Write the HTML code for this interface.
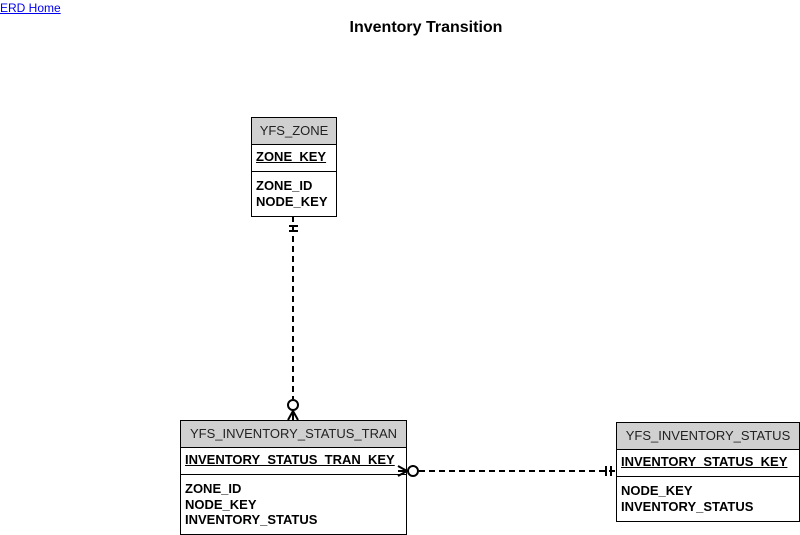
<!DOCTYPE html>
<html><head><style>
body{margin:0;width:800px;height:535px;position:relative;background:#fff;font-family:"Liberation Sans",sans-serif;overflow:hidden}
a{position:absolute;left:0;top:1px;font-size:12px;color:#00e;text-decoration:underline}
.t{position:absolute;left:0;width:852px;top:19px;text-align:center;font-weight:bold;font-size:16px}
.e{position:absolute;border:1px solid #000;background:#fff;box-sizing:border-box}
.h{background:#d0d0d0;border-bottom:1px solid #000;font-size:13px;text-align:center;height:26px;line-height:26px;color:#222}
.pk{border-bottom:1px solid #000;font-weight:bold;font-size:13px;padding:4px 4px 0;height:27px;box-sizing:border-box;text-decoration:underline}
.f{font-weight:bold;font-size:13px;padding:6px 4px 0;line-height:15.5px}
svg{position:absolute;left:0;top:0;z-index:2}
</style></head><body>
<a href="#">ERD Home</a>
<div class="t">Inventory Transition</div>
<svg width="800" height="535">
<g stroke="#000" stroke-width="2" fill="none">
<line x1="293" y1="216" x2="293" y2="399" stroke-dasharray="6,4"/>
<line x1="289" y1="226" x2="298" y2="226"/><line x1="289" y1="231" x2="298" y2="231"/>
<circle cx="293" cy="405" r="5" fill="#fff"/>
<line x1="293" y1="410" x2="293" y2="420"/><line x1="293" y1="411" x2="288" y2="420"/><line x1="293" y1="411" x2="298" y2="420"/>
<line x1="419" y1="471" x2="616" y2="471" stroke-dasharray="6,4"/>
<circle cx="413" cy="471" r="5" fill="#fff"/>
<line x1="398" y1="471" x2="408" y2="471"/><line x1="407" y1="471" x2="398" y2="466"/><line x1="407" y1="471" x2="398" y2="476"/>
<line x1="606" y1="466" x2="606" y2="476"/><line x1="611" y1="466" x2="611" y2="476"/>
</g></svg>
<div class="e" style="left:251px;top:117px;width:86px;height:100px"><div class="h">YFS_ZONE</div><div class="pk">ZONE_KEY</div><div class="f">ZONE_ID<br>NODE_KEY</div></div>
<div class="e" style="left:180px;top:420px;width:227px;height:115px"><div class="h">YFS_INVENTORY_STATUS_TRAN</div><div class="pk">INVENTORY_STATUS_TRAN_KEY</div><div class="f">ZONE_ID<br>NODE_KEY<br>INVENTORY_STATUS</div></div>
<div class="e" style="left:616px;top:422px;width:184px;height:100px"><div class="h">YFS_INVENTORY_STATUS</div><div class="pk">INVENTORY_STATUS_KEY</div><div class="f">NODE_KEY<br>INVENTORY_STATUS</div></div>
</body></html>
